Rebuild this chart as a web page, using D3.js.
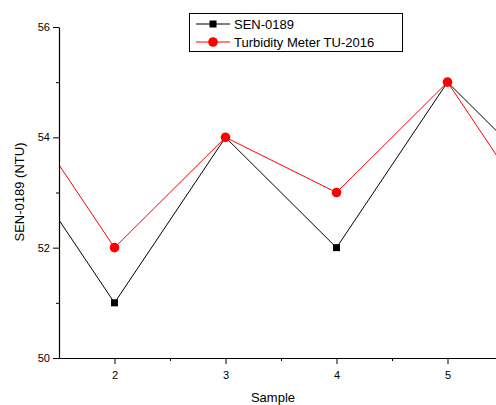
<!DOCTYPE html>
<html><head><meta charset="utf-8">
<script src="https://cdn.jsdelivr.net/npm/d3@7"></script>
<style>body{margin:0;background:#fff}svg{display:block;font-family:"Liberation Sans",Arial,sans-serif}</style>
</head><body>
<script>
const samples = [1, 2, 3, 4, 5, 6];
const sen0189 = [54, 51, 54, 52, 55, 53];
const tu2016 = [55, 52, 54, 53, 55, 52];
const seriesNames = ["SEN-0189", "Turbidity Meter TU-2016"];
const xTicks = [2, 3, 4, 5];
const yTicks = [50, 52, 54, 56];

const W = 496, H = 405;
const svg = d3.select("body").append("svg").attr("width", W).attr("height", H);
const x = d3.scaleLinear().domain([1.5, 5.5]).range([59, 503]);
const y = d3.scaleLinear().domain([50, 56]).range([358, 27]);

svg.append("clipPath").attr("id", "clip").append("rect")
  .attr("x", 59).attr("y", 0).attr("width", 450).attr("height", 358);

const g = svg.append("g").attr("clip-path", "url(#clip)");
const line = d3.line().x((d, i) => x(samples[i])).y(d => y(d));
g.append("path").datum(sen0189).attr("d", line).attr("fill", "none").attr("stroke", "#000").attr("stroke-width", 1);
g.append("path").datum(tu2016).attr("d", line).attr("fill", "none").attr("stroke", "#f00").attr("stroke-width", 1);
g.selectAll("rect.m").data(sen0189).enter().append("rect").attr("class", "m")
  .attr("x", (d, i) => x(samples[i]) - 3.5).attr("y", d => y(d) - 3.5).attr("width", 7).attr("height", 7).attr("fill", "#000");
g.selectAll("circle.m").data(tu2016).enter().append("circle").attr("class", "m")
  .attr("cx", (d, i) => x(samples[i])).attr("cy", d => y(d)).attr("r", 4.8).attr("fill", "#f00");

// axes
const xAxis = svg.append("g").attr("transform", "translate(0,358)")
  .call(d3.axisBottom(x).tickValues(xTicks).tickFormat(d3.format("d")).tickSize(6).tickSizeOuter(0));
svg.append("g").attr("transform", "translate(0,358)")
  .call(d3.axisBottom(x).tickValues([2.5, 3.5, 4.5]).tickFormat("").tickSize(3).tickSizeOuter(0))
  .select(".domain").remove();
const yAxis = svg.append("g").attr("transform", "translate(59,0)")
  .call(d3.axisLeft(y).tickValues(yTicks).tickFormat(d3.format("d")).tickSize(6).tickSizeOuter(0));
svg.append("g").attr("transform", "translate(59,0)")
  .call(d3.axisLeft(y).tickValues([51, 53, 55]).tickFormat("").tickSize(3).tickSizeOuter(0))
  .select(".domain").remove();
svg.selectAll(".domain").attr("stroke", "#000").attr("stroke-width", 1.2);
svg.selectAll(".tick line").attr("stroke", "#000");
svg.selectAll(".tick text").attr("font-size", 11).attr("fill", "#000").attr("font-family", "Liberation Sans, Arial, sans-serif");
xAxis.selectAll(".tick text").attr("dy", "1.05em");

svg.append("text").attr("x", 273).attr("y", 402).attr("text-anchor", "middle").attr("font-size", 13).text("Sample");
svg.append("text").attr("transform", "translate(24,192) rotate(-90)").attr("text-anchor", "middle").attr("font-size", 13).text("SEN-0189 (NTU)");

// legend
const lg = svg.append("g");
lg.append("rect").attr("x", 189.5).attr("y", 13.5).attr("width", 213).attr("height", 38).attr("fill", "#fff").attr("stroke", "#000").attr("stroke-width", 1);
const colors = ["#000", "#f00"];
seriesNames.forEach((name, i) => {
  const cy = 24 + i * 18;
  lg.append("line").attr("x1", 196).attr("x2", 230).attr("y1", cy).attr("y2", cy).attr("stroke", colors[i]);
  if (i === 0) lg.append("rect").attr("x", 209.5).attr("y", cy - 3.5).attr("width", 7).attr("height", 7).attr("fill", "#000");
  else lg.append("circle").attr("cx", 213).attr("cy", cy).attr("r", 4.8).attr("fill", "#f00");
  lg.append("text").attr("x", 234).attr("y", cy + 5).attr("font-size", 13).text(name);
});
</script>
</body></html>
